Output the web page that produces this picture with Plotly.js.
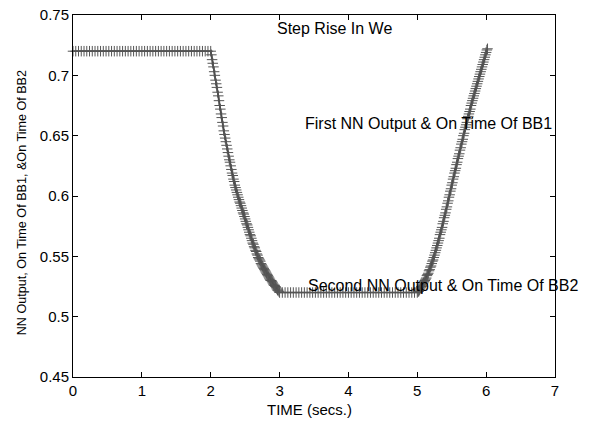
<!DOCTYPE html>
<html>
<head>
<meta charset="utf-8">
<script src="https://cdn.plot.ly/plotly-3.0.1.min.js"></script>
<style>html,body{margin:0;padding:0;background:#fff;}#chart{width:589px;height:422px;}</style>
</head>
<body>
<div id="chart"></div>
<script>
// Segment 1: flat high level
const flat1Time = [0.00,0.04,0.08,0.12,0.16,0.20,0.24,0.28,0.32,0.36,0.40,0.44,0.48,0.52,0.56,0.60,0.64,0.68,0.72,0.76,0.80,0.84,0.88,0.92,0.96,1.00,1.04,1.08,1.12,1.16,1.20,1.24,1.28,1.32,1.36,1.40,1.44,1.48,1.52,1.56,1.60,1.64,1.68,1.72,1.76,1.80,1.84,1.88,1.92,1.96];
const flat1Value = [0.72,0.72,0.72,0.72,0.72,0.72,0.72,0.72,0.72,0.72,0.72,0.72,0.72,0.72,0.72,0.72,0.72,0.72,0.72,0.72,0.72,0.72,0.72,0.72,0.72,0.72,0.72,0.72,0.72,0.72,0.72,0.72,0.72,0.72,0.72,0.72,0.72,0.72,0.72,0.72,0.72,0.72,0.72,0.72,0.72,0.72,0.72,0.72,0.72,0.72];
// Segment 2: fall
const fallTime = [2.00,2.01,2.02,2.03,2.04,2.05,2.06,2.07,2.08,2.09,2.10,2.11,2.12,2.13,2.14,2.15,2.16,2.17,2.18,2.19,2.20,2.21,2.22,2.23,2.24,2.25,2.26,2.27,2.28,2.29,2.30,2.31,2.32,2.33,2.34,2.35,2.36,2.37,2.38,2.39,2.40,2.41,2.42,2.43,2.44,2.45,2.46,2.47,2.48,2.49,2.50,2.51,2.52,2.53,2.54,2.55,2.56,2.57,2.58,2.59,2.60,2.61,2.62,2.63,2.64,2.65,2.66,2.67,2.68,2.69,2.70,2.71,2.72,2.73,2.74,2.75,2.76,2.77,2.78,2.79,2.80,2.81,2.82,2.83,2.84,2.85,2.86,2.87,2.88,2.89,2.90,2.91,2.92,2.93,2.94,2.95,2.96,2.97,2.98,2.99,3.00];
const fallValue = [0.720,0.717,0.713,0.710,0.707,0.703,0.700,0.696,0.693,0.690,0.686,0.683,0.679,0.675,0.672,0.668,0.665,0.661,0.658,0.654,0.651,0.648,0.645,0.642,0.639,0.636,0.633,0.630,0.628,0.625,0.622,0.619,0.617,0.614,0.612,0.609,0.607,0.605,0.603,0.601,0.599,0.597,0.595,0.594,0.592,0.590,0.588,0.586,0.585,0.583,0.581,0.579,0.577,0.576,0.574,0.572,0.570,0.568,0.567,0.565,0.563,0.561,0.560,0.558,0.557,0.555,0.554,0.552,0.551,0.549,0.548,0.547,0.546,0.544,0.543,0.542,0.541,0.540,0.539,0.538,0.537,0.536,0.535,0.534,0.533,0.532,0.531,0.530,0.530,0.529,0.528,0.527,0.526,0.526,0.525,0.524,0.523,0.522,0.522,0.521,0.520];
// Segment 3: flat low level
const flat2Time = [3.04,3.08,3.12,3.16,3.20,3.24,3.28,3.32,3.36,3.40,3.44,3.48,3.52,3.56,3.60,3.64,3.68,3.72,3.76,3.80,3.84,3.88,3.92,3.96,4.00,4.04,4.08,4.12,4.16,4.20,4.24,4.28,4.32,4.36,4.40,4.44,4.48,4.52,4.56,4.60,4.64,4.68,4.72,4.76,4.80,4.84,4.88,4.92,4.96];
const flat2Value = [0.52,0.52,0.52,0.52,0.52,0.52,0.52,0.52,0.52,0.52,0.52,0.52,0.52,0.52,0.52,0.52,0.52,0.52,0.52,0.52,0.52,0.52,0.52,0.52,0.52,0.52,0.52,0.52,0.52,0.52,0.52,0.52,0.52,0.52,0.52,0.52,0.52,0.52,0.52,0.52,0.52,0.52,0.52,0.52,0.52,0.52,0.52,0.52,0.52];
// Segment 4: rise
const riseTime = [5.00,5.01,5.02,5.03,5.04,5.05,5.06,5.07,5.08,5.09,5.10,5.11,5.12,5.13,5.14,5.15,5.16,5.17,5.18,5.19,5.20,5.21,5.22,5.23,5.24,5.25,5.26,5.27,5.28,5.29,5.30,5.31,5.32,5.33,5.34,5.35,5.36,5.37,5.38,5.39,5.40,5.41,5.42,5.43,5.44,5.45,5.46,5.47,5.48,5.49,5.50,5.51,5.52,5.53,5.54,5.55,5.56,5.57,5.58,5.59,5.60,5.61,5.62,5.63,5.64,5.65,5.66,5.67,5.68,5.69,5.70,5.71,5.72,5.73,5.74,5.75,5.76,5.77,5.78,5.79,5.80,5.81,5.82,5.83,5.84,5.85,5.86,5.87,5.88,5.89,5.90,5.91,5.92,5.93,5.94,5.95,5.96,5.97,5.98,5.99,6.00,6.01,6.02];
const riseValue = [0.520,0.521,0.521,0.522,0.523,0.524,0.525,0.526,0.527,0.528,0.529,0.530,0.531,0.532,0.534,0.535,0.536,0.538,0.539,0.541,0.542,0.544,0.546,0.547,0.549,0.551,0.553,0.555,0.557,0.559,0.561,0.563,0.565,0.568,0.570,0.572,0.574,0.577,0.579,0.582,0.584,0.586,0.589,0.591,0.594,0.596,0.599,0.601,0.604,0.606,0.609,0.611,0.614,0.616,0.619,0.621,0.623,0.626,0.628,0.631,0.633,0.635,0.638,0.640,0.643,0.645,0.647,0.650,0.652,0.655,0.657,0.659,0.661,0.664,0.666,0.668,0.670,0.672,0.675,0.677,0.679,0.681,0.683,0.685,0.687,0.689,0.691,0.693,0.695,0.697,0.699,0.701,0.703,0.705,0.707,0.709,0.711,0.713,0.715,0.717,0.719,0.721,0.722];

const xTickVals = [0,1,2,3,4,5,6,7];
const yTickVals = [0.45,0.5,0.55,0.6,0.65,0.7,0.75];
const yTickText = ["0.45","0.5","0.55","0.6","0.65","0.7","0.75"];

const xTitle = 'TIME (secs.)';
const yTitle = 'NN Output, On Time Of BB1, &On Time Of BB2';

const labelTexts = ["Step Rise In We","First NN Output & On Time Of BB1","Second NN Output & On Time Of BB2"];
const labelX = [2.93, 3.34, 3.38];
const labelY = [0.739, 0.6605, 0.5255];

const time = flat1Time.concat(fallTime, flat2Time, riseTime);
const output = flat1Value.concat(fallValue, flat2Value, riseValue);

const font = "Liberation Sans, Arial, Helvetica, sans-serif";

const traces = [{
  x: time, y: output, type: 'scatter', mode: 'lines+markers',
  line: {color: '#000', width: 1.5},
  marker: {symbol: 'cross-thin', size: 7.5, line: {color: '#555', width: 1}},
  cliponaxis: false, showlegend: false, hoverinfo: 'skip'
}];

const annotations = labelTexts.map((t, i) => ({
  x: labelX[i], y: labelY[i], xref: 'x', yref: 'y', text: t, showarrow: false,
  xanchor: 'left', yanchor: 'middle', font: {family: font, size: 16, color: '#000'}
}));
annotations.push({
  x: 0.5, y: -0.091, xref: 'paper', yref: 'paper', xshift: -5, text: xTitle, showarrow: false,
  xanchor: 'center', yanchor: 'middle', font: {family: font, size: 15, color: '#000'}
});
annotations.push({
  x: 0, y: 0.48, xref: 'paper', yref: 'paper', xshift: -51, text: yTitle, showarrow: false,
  textangle: -90, xanchor: 'center', yanchor: 'middle', font: {family: font, size: 12.6, color: '#000'}
});

const layout = {
  width: 589, height: 422,
  margin: {l: 73, r: 34, t: 15, b: 45},
  paper_bgcolor: '#fff', plot_bgcolor: '#fff',
  font: {family: font, size: 15, color: '#000'},
  showlegend: false,
  xaxis: {
    range: [0, 7], tickvals: xTickVals, ticks: 'inside', ticklen: 5, tickcolor: '#000',
    showline: true, linecolor: '#000', linewidth: 1, mirror: 'ticks',
    showgrid: false, zeroline: false,
    tickfont: {family: font, size: 15, color: '#000'}
  },
  yaxis: {
    range: [0.45, 0.75], tickvals: yTickVals, ticktext: yTickText, ticks: 'inside', ticklen: 5, tickcolor: '#000',
    showline: true, linecolor: '#000', linewidth: 1, mirror: 'ticks',
    showgrid: false, zeroline: false,
    tickfont: {family: font, size: 15, color: '#000'}
  },
  annotations: annotations
};

Plotly.newPlot('chart', traces, layout, {staticPlot: true, displayModeBar: false});
</script>
</body>
</html>
